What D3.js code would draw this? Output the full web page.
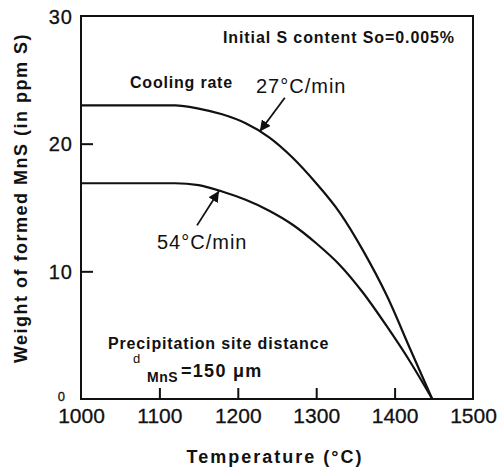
<!DOCTYPE html>
<html>
<head>
<meta charset="utf-8">
<script src="https://cdn.jsdelivr.net/npm/d3@7"></script>
<style>
  html, body { margin: 0; padding: 0; background: #fff; }
  svg { display: block; }
  text { font-family: "Liberation Sans", Arial, sans-serif; fill: #111; }
</style>
</head>
<body>
<svg id="chart" width="501" height="470"></svg>
<script>
// MnS precipitated vs. temperature for two cooling rates
const xTicks = [1000, 1100, 1200, 1300, 1400, 1500];
const yTicks = [0, 10, 20, 30];

// 27 °C/min
const temp27 = [1000, 1120, 1150, 1180, 1210, 1240, 1270, 1300, 1330, 1360, 1390, 1420, 1448];
const mns27  = [23, 23, 22.75, 22.3, 21.6, 20.5, 18.9, 16.9, 14.6, 11.6, 8.1, 3.9, 0];

// 54 °C/min
const temp54 = [1000, 1120, 1150, 1180, 1210, 1240, 1270, 1300, 1330, 1360, 1390, 1420, 1448];
const mns54  = [16.9, 16.9, 16.75, 16.25, 15.6, 14.75, 13.65, 12.2, 10.5, 8.3, 5.7, 2.9, 0];

const svg = d3.select("#chart");
const x = d3.scaleLinear().domain([1000, 1500]).range([81, 473]);
const y = d3.scaleLinear().domain([0, 30]).range([399, 16]);

// frame
svg.append("rect")
  .attr("x", x(1000)).attr("y", y(30))
  .attr("width", x(1500) - x(1000)).attr("height", y(0) - y(30))
  .attr("fill", "none").attr("stroke", "#111").attr("stroke-width", 2);

// x axis (ticks point inward)
const xAxis = svg.append("g")
  .attr("transform", `translate(0,${y(0)})`)
  .call(d3.axisBottom(x).tickValues(xTicks).tickSizeInner(-11).tickSizeOuter(0).tickPadding(0).tickFormat(d3.format("d")));
xAxis.select(".domain").remove();
xAxis.selectAll(".tick line").attr("stroke", "#111").attr("stroke-width", 2)
  .attr("display", d => (d === 1000 || d === 1500) ? "none" : null);
xAxis.selectAll(".tick text")
  .attr("y", 24).attr("dy", 0)
  .attr("font-size", 21).attr("fill", "#111")
  .attr("stroke", "#111").attr("stroke-width", 0.3)
  .attr("font-family", "Liberation Sans, Arial, sans-serif");

// y axis (ticks point inward)
const yAxis = svg.append("g")
  .attr("transform", `translate(${x(1000)},0)`)
  .call(d3.axisLeft(y).tickValues(yTicks).tickSizeInner(-12).tickSizeOuter(0).tickPadding(0).tickFormat(d3.format("d")));
yAxis.select(".domain").remove();
yAxis.selectAll(".tick line").attr("stroke", "#111").attr("stroke-width", 2)
  .attr("display", d => (d === 0 || d === 30) ? "none" : null);
yAxis.selectAll(".tick text")
  .attr("x", d => d === 0 ? -16 : -8)
  .attr("dy", d => d === 0 ? "0.1em" : "0.36em")
  .attr("font-size", d => d === 0 ? 13 : 20)
  .attr("letter-spacing", d => d === 0 ? 0 : 1)
  .attr("fill", "#111")
  .attr("stroke", "#111").attr("stroke-width", 0.3)
  .attr("font-family", "Liberation Sans, Arial, sans-serif");

// axis titles
svg.append("text")
  .attr("x", 275).attr("y", 463)
  .attr("text-anchor", "middle")
  .attr("font-size", 18).attr("font-weight", "bold").attr("letter-spacing", 2)
  .text("Temperature (°C)");

svg.append("text")
  .attr("transform", "translate(27,198) rotate(-90)")
  .attr("text-anchor", "middle")
  .attr("font-size", 18).attr("font-weight", "bold").attr("letter-spacing", 1.5)
  .text("Weight of formed MnS (in ppm S)");

// curves
const line = d3.line().x(d => x(d[0])).y(d => y(d[1])).curve(d3.curveMonotoneX);
[[temp27, mns27], [temp54, mns54]].forEach(([t, w]) => {
  svg.append("path")
    .datum(t.map((v, i) => [v, w[i]]))
    .attr("d", line)
    .attr("fill", "none").attr("stroke", "#111").attr("stroke-width", 2.2);
});

// annotation arrows
const defs = svg.append("defs");
defs.append("marker")
  .attr("id", "head").attr("viewBox", "0 0 10 10")
  .attr("refX", 10).attr("refY", 5)
  .attr("markerWidth", 11).attr("markerHeight", 11)
  .attr("markerUnits", "userSpaceOnUse")
  .attr("orient", "auto")
  .append("path").attr("d", "M0,0 L10,5 L0,10 Z").attr("fill", "#111");

function arrow(t0, w0, t1, w1) {
  svg.append("line")
    .attr("x1", x(t0)).attr("y1", y(w0))
    .attr("x2", x(t1)).attr("y2", y(w1))
    .attr("stroke", "#111").attr("stroke-width", 1.8)
    .attr("marker-end", "url(#head)");
}
arrow(1260, 23.6, 1228, 20.95);
arrow(1148, 13.6, 1176, 16.3);

// notes
svg.append("text")
  .attr("x", 223).attr("y", 43)
  .attr("font-size", 16).attr("font-weight", "bold").attr("letter-spacing", 0.9)
  .text("Initial S content So=0.005%");

svg.append("text")
  .attr("x", 130).attr("y", 88)
  .attr("font-size", 16).attr("font-weight", "bold").attr("letter-spacing", 0.8)
  .text("Cooling rate");

svg.append("text")
  .attr("x", 256).attr("y", 93)
  .attr("font-size", 20).attr("letter-spacing", 1)
  .text("27°C/min");

svg.append("text")
  .attr("x", 157).attr("y", 249)
  .attr("font-size", 20).attr("letter-spacing", 1)
  .text("54°C/min");

svg.append("text")
  .attr("x", 108).attr("y", 349)
  .attr("font-size", 16).attr("font-weight", "bold").attr("letter-spacing", 0.85)
  .text("Precipitation site distance");

const dn = svg.append("text");
dn.append("tspan").attr("x", 133).attr("y", 363).attr("font-size", 13).text("d");
dn.append("tspan").attr("x", 147).attr("y", 382).attr("font-size", 14).attr("font-weight", "bold").attr("letter-spacing", 0.5).text("MnS");
dn.append("tspan").attr("x", 181).attr("y", 377).attr("font-size", 18).attr("font-weight", "bold").attr("letter-spacing", 1.3).text("=150 μm");
</script>
</body>
</html>
